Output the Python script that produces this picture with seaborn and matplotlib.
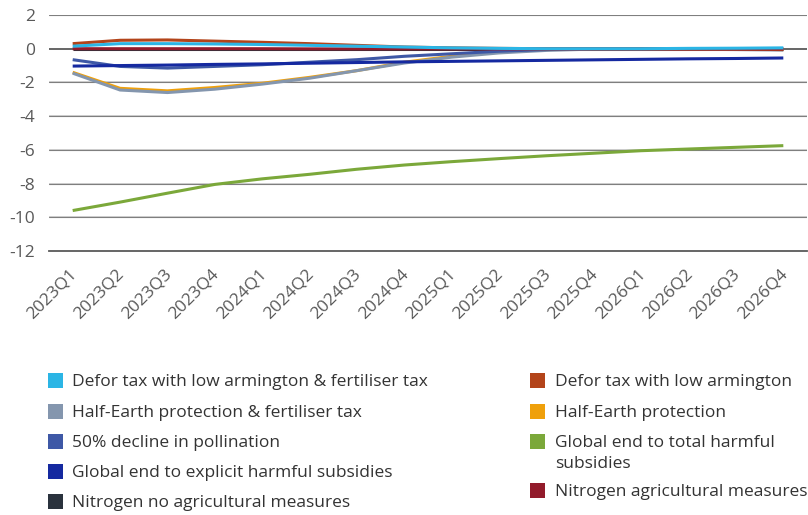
import numpy as np
import pandas as pd
import matplotlib
matplotlib.use("Agg")
import matplotlib.pyplot as plt
import matplotlib.transforms as mtransforms
import seaborn as sns
from matplotlib.patches import Rectangle

# ------------------------------------------------------------------------------
# Data
quarters = ["2023Q1", "2023Q2", "2023Q3", "2023Q4",
            "2024Q1", "2024Q2", "2024Q3", "2024Q4",
            "2025Q1", "2025Q2", "2025Q3", "2025Q4",
            "2026Q1", "2026Q2", "2026Q3", "2026Q4"]

defor_fert = [0.15, 0.3, 0.3, 0.28, 0.25, 0.2, 0.15, 0.1, 0.05, 0.02, 0.0, 0.0, 0.0, 0.02, 0.03, 0.05]
defor_low = [0.3, 0.5, 0.52, 0.45, 0.38, 0.3, 0.2, 0.1, 0.05, 0.02, 0.0, 0.0, 0.0, -0.02, -0.03, -0.05]
half_fert = [-1.45, -2.45, -2.6, -2.4, -2.1, -1.75, -1.3, -0.85, -0.5, -0.25, -0.1, -0.02, -0.02, -0.03, -0.05, -0.08]
half_earth = [-1.4, -2.35, -2.5, -2.3, -2.05, -1.7, -1.3, -0.8, -0.45, -0.2, -0.05, 0.0, 0.0, -0.02, -0.03, -0.05]
pollination = [-0.65, -1.05, -1.15, -1.05, -0.95, -0.8, -0.65, -0.45, -0.3, -0.15, -0.05, 0.0, 0.0, 0.0, 0.0, 0.0]
total_subs = [-9.6, -9.1, -8.57, -8.05, -7.72, -7.45, -7.15, -6.9, -6.7, -6.52, -6.35, -6.2, -6.05, -5.95, -5.85, -5.75]
explicit_subs = [-1.03, -1.0, -0.97, -0.93, -0.9, -0.86, -0.82, -0.78, -0.75, -0.72, -0.69, -0.66, -0.63, -0.6, -0.58, -0.55]
nitrogen_no_ag = [0.0] * 16
nitrogen_ag = [0.0, 0.0, 0.0, 0.0, 0.0, -0.01, -0.01, -0.01, -0.01, -0.01, -0.01, -0.01, -0.01, -0.01, -0.01, -0.01]

series = {
    "Defor tax with low armington & fertiliser tax": defor_fert,
    "Half-Earth protection & fertiliser tax": half_fert,
    "50% decline in pollination": pollination,
    "Global end to explicit harmful subsidies": explicit_subs,
    "Nitrogen no agricultural measures": nitrogen_no_ag,
    "Defor tax with low armington": defor_low,
    "Half-Earth protection": half_earth,
    "Global end to total harmful\nsubsidies": total_subs,
    "Nitrogen agricultural measures": nitrogen_ag,
}

colors = {
    "Defor tax with low armington & fertiliser tax": "#2BB5E5",
    "Half-Earth protection & fertiliser tax": "#8496AE",
    "50% decline in pollination": "#3E58A6",
    "Global end to explicit harmful subsidies": "#1529A0",
    "Nitrogen no agricultural measures": "#2A323D",
    "Defor tax with low armington": "#B3441A",
    "Half-Earth protection": "#EFA00B",
    "Global end to total harmful\nsubsidies": "#7BA83A",
    "Nitrogen agricultural measures": "#921B2B",
}

# draw order (bottom to top), roughly like the original
draw_order = [
    "Nitrogen no agricultural measures",
    "Global end to total harmful\nsubsidies",
    "Half-Earth protection",
    "Half-Earth protection & fertiliser tax",
    "50% decline in pollination",
    "Global end to explicit harmful subsidies",
    "Defor tax with low armington",
    "Nitrogen agricultural measures",
    "Defor tax with low armington & fertiliser tax",
]

df = pd.DataFrame(series)
df["quarter"] = quarters
long = df.melt(id_vars="quarter", var_name="scenario", value_name="value")
long["x"] = long["quarter"].map({q: i for i, q in enumerate(quarters)})

# ------------------------------------------------------------------------------
sns.set_style("white")
plt.rcParams["font.family"] = ["Open Sans", "DejaVu Sans"]
plt.rcParams["axes.unicode_minus"] = False
text_col = "#595959"

W, H = 808, 515
fig = plt.figure(figsize=(W / 100, H / 100), dpi=100)
ax = fig.add_axes([49 / W, 1 - 251 / H, 758 / W, 236 / H])

for name in draw_order:
    sub = long[long["scenario"] == name]
    sns.lineplot(data=sub, x="x", y="value", color=colors[name], linewidth=2.2,
                 ax=ax, legend=False, solid_capstyle="butt")

ax.set_xlim(-0.5, len(quarters) - 0.5)
ax.set_ylim(-12, 2)
ax.set_yticks(np.arange(-12, 3, 2))
ax.set_yticklabels([str(v) for v in range(-12, 3, 2)])
for v in range(-10, 3, 2):
    if v == 0:
        ax.axhline(v, color="#595959", lw=1.3, zorder=0)
    else:
        ax.axhline(v, color="#D0D0D0", lw=1.4, zorder=0)
        ax.axhline(v, color="#7F7F7F", lw=0.8, zorder=0)

ax.set_xticks(np.arange(len(quarters)))
ax.set_xticklabels(quarters, rotation=45, ha="right", va="top", rotation_mode="anchor")
ax.set_xticks(np.arange(-0.5, len(quarters)), minor=True)
ax.tick_params(axis="x", which="major", length=0, pad=11, labelsize=12.5, colors=text_col)
ax.tick_params(axis="x", which="minor", length=5, width=1.2, color="#595959", direction="out")
ax.tick_params(axis="y", length=0, pad=10, labelsize=12.5, colors=text_col)
shift = mtransforms.ScaledTranslation(-4 / 100, 0, fig.dpi_scale_trans)
for lab in ax.get_xticklabels():
    lab.set_transform(lab.get_transform() + shift)
ax.set_xlabel("")
ax.set_ylabel("")
for s in ["top", "right", "left"]:
    ax.spines[s].set_visible(False)
ax.spines["bottom"].set_color("#595959")
ax.spines["bottom"].set_linewidth(1.3)

# legend: two columns, square swatch aligned with first text line
names = list(series.keys())
left_rows = [380.5, 411, 441, 471, 501]
right_rows = [380.5, 411, 441, 490]
slots = [(48, 72, y) for y in left_rows] + [(530, 555, y) for y in right_rows]
for name, (sx, tx, y) in zip(names, slots):
    fig.patches.append(Rectangle((sx / W, 1 - (y + 7.5) / H), 15 / W, 15 / H,
                                 transform=fig.transFigure, facecolor=colors[name],
                                 edgecolor="none"))
    fig.text(tx / W, 1 - (y - 6) / H, name, ha="left", va="top", fontsize=12.5,
             color="#333333", linespacing=1.45)

fig.savefig("out.png", dpi=100)
